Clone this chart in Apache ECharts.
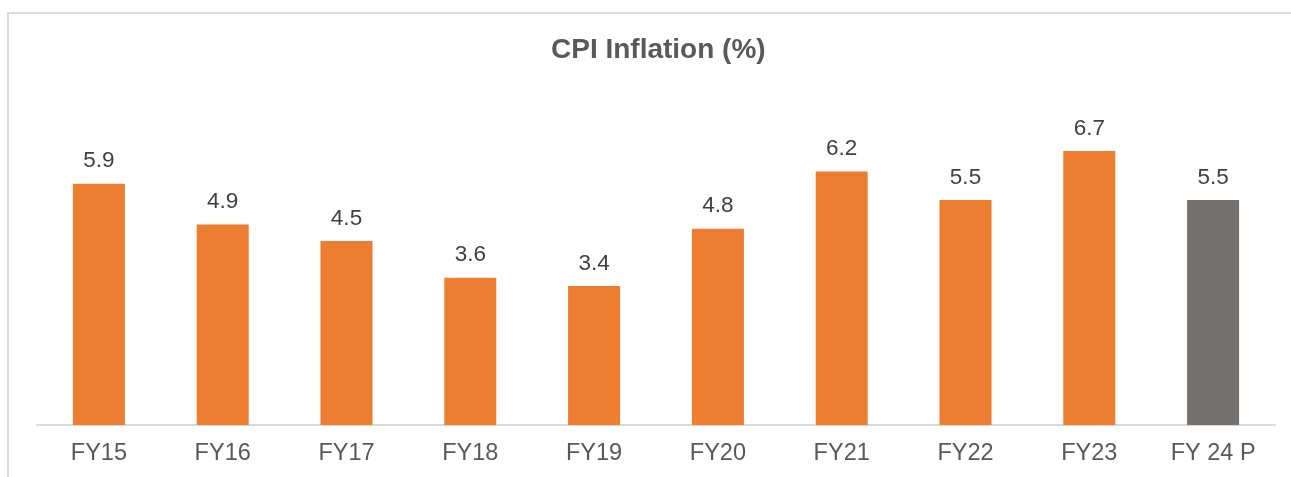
<!DOCTYPE html>
<html><head><meta charset="utf-8">
<script src="https://cdn.jsdelivr.net/npm/echarts@6/dist/echarts.min.js"></script>
<style>html,body{margin:0;padding:0;background:#fff;}#c{width:1291px;height:477px;}</style>
</head><body><div id="c"></div>
<script>
const categories = ['FY15','FY16','FY17','FY18','FY19','FY20','FY21','FY22','FY23','FY 24 P'];
const values = [5.9, 4.9, 4.5, 3.6, 3.4, 4.8, 6.2, 5.5, 6.7, 5.5];
const projected = [false,false,false,false,false,false,false,false,false,true];
const titleText = 'CPI Inflation (%)';

const chart = echarts.init(document.getElementById('c'), null, {renderer:'canvas'});
chart.setOption({
  animation:false,
  backgroundColor:'#fff',
  title:{text:titleText,left:546,top:31,textStyle:{fontFamily:'Liberation Sans, Arial',fontWeight:'bold',fontSize:28,color:'#595959'}},
  graphic:[{type:'rect',shape:{x:8,y:13,width:1400,height:600},style:{fill:'none',stroke:'#d9d9d9',lineWidth:2},silent:true}],
  grid:{left:37,right:16,top:97.8,bottom:52,containLabel:false},
  xAxis:{type:'category',data:categories,axisLine:{lineStyle:{color:'#d9d9d9',width:2}},axisTick:{show:false},
    axisLabel:{fontFamily:'Liberation Sans, Arial',fontSize:23.5,color:'#595959',margin:17}},
  yAxis:{type:'value',min:0,max:8,show:false,splitLine:{show:false}},
  series:[{type:'bar',barWidth:52,
    data:values.map((v,i)=>({value:v,itemStyle:{color:projected[i]?'#767171':'#ED7D31'}})),
    label:{show:true,position:'top',distance:11,fontFamily:'Liberation Sans, Arial',fontSize:22.5,color:'#404040',formatter:p=>p.value.toFixed(1)}
  }]
});
</script></body></html>
